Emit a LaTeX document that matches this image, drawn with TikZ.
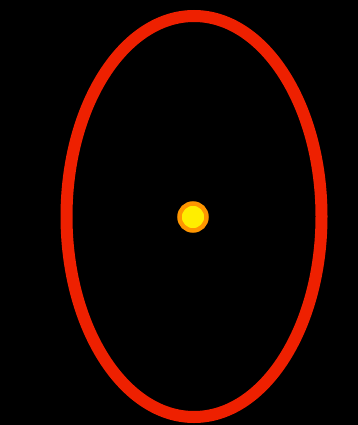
\documentclass[tikz,border=0pt]{standalone}
\usepackage{tikz}
\usetikzlibrary{shapes.geometric}
\definecolor{orbitred}{RGB}{238,32,0}
\definecolor{sunyellow}{RGB}{255,238,0}
\definecolor{sunorange}{RGB}{255,150,0}

\begin{document}
\begin{tikzpicture}[x=1pt,y=1pt,
    orbit/.style={draw=orbitred,line width=12pt},
    sun/.style={circle,fill=sunyellow,draw=sunorange,line width=4.5pt,minimum size=27pt,inner sep=0pt}]
  \fill[black] (0,0) rectangle (358,-425);
  \useasboundingbox (0,0) rectangle (358,-425);

  % orbit
  \draw[orbit] (194,-216.5) ellipse [x radius=127.5, y radius=200.5];

  \node[sun] (star) at (193,-217) {};
\end{tikzpicture}
\end{document}
